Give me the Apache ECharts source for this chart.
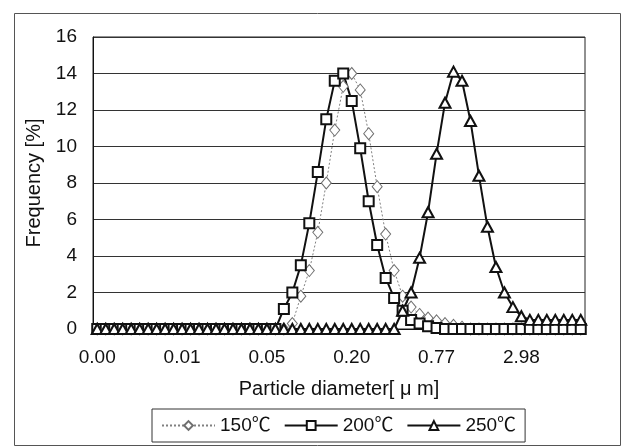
<!DOCTYPE html>
<html>
<head>
<meta charset="utf-8">
<script src="https://cdn.jsdelivr.net/npm/echarts@6/dist/echarts.min.js"></script>
<style>html,body{margin:0;padding:0;background:#fff;}#c{width:629px;height:446px;}</style>
</head>
<body>
<div id="c"></div>
<script>
// Particle diameters [um] (category axis, log-spaced channels)
const diameters = [
  0.00343, 0.00393, 0.00450, 0.00515, 0.00589, 0.00674, 0.00772, 0.00884, 0.01012, 0.01159,
  0.01327, 0.01519, 0.01739, 0.01991, 0.02280, 0.02610, 0.02988, 0.03421, 0.03917, 0.04485,
  0.05134, 0.05878, 0.06730, 0.07705, 0.08822, 0.1010, 0.1156, 0.1324, 0.1516, 0.1735,
  0.1987, 0.2275, 0.2604, 0.2982, 0.3414, 0.3908, 0.4475, 0.5123, 0.5866, 0.6716,
  0.7689, 0.8803, 1.008, 1.154, 1.321, 1.513, 1.732, 1.983, 2.270, 2.599,
  2.976, 3.407, 3.901, 4.466, 5.113, 5.854, 6.702, 7.673
];
const seriesNames = ['150℃', '200℃', '250℃'];
const s150 = [
  0, 0, 0, 0, 0, 0, 0, 0, 0, 0,
  0, 0, 0, 0, 0, 0, 0, 0, 0, 0,
  0, 0, 0, 0.3, 1.8, 3.2, 5.3, 8.0, 10.9, 13.3,
  14.0, 13.1, 10.7, 7.8, 5.2, 3.2, 1.8, 1.2, 0.8, 0.6,
  0.45, 0.3, 0.2, 0.1, 0, 0, 0, 0, 0, 0,
  0, 0, 0, 0, 0, 0, 0, 0
];
const s200 = [
  0, 0, 0, 0, 0, 0, 0, 0, 0, 0,
  0, 0, 0, 0, 0, 0, 0, 0, 0, 0,
  0, 0, 1.1, 2.0, 3.5, 5.8, 8.6, 11.5, 13.6, 14.0,
  12.5, 9.9, 7.0, 4.6, 2.8, 1.7, 1.0, 0.5, 0.3, 0.15,
  0.05, 0, 0, 0, 0, 0, 0, 0, 0, 0,
  0, 0, 0, 0, 0, 0, 0, 0
];
const s250 = [
  0, 0, 0, 0, 0, 0, 0, 0, 0, 0,
  0, 0, 0, 0, 0, 0, 0, 0, 0, 0,
  0, 0, 0, 0, 0, 0, 0, 0, 0, 0,
  0, 0, 0, 0, 0, 0, 1.0, 2.0, 3.9, 6.4,
  9.6, 12.4, 14.1, 13.6, 11.4, 8.4, 5.6, 3.4, 2.0, 1.2,
  0.7, 0.5, 0.5, 0.5, 0.5, 0.5, 0.5, 0.5
];
const yMin = 0, yMax = 16, yStep = 2;
const xTitle = 'Particle diameter[ μ m]';
const yTitle = 'Frequency [%]';

const FONT = '"Liberation Sans", Arial, "Noto Sans CJK JP", sans-serif';
const chart = echarts.init(document.getElementById('c'), null, {renderer: 'canvas'});
chart.setOption({
  backgroundColor: '#fff',
  animation: false,
  textStyle: {fontFamily: FONT, color: '#111'},
  graphic: [{
    type: 'rect', left: 12, top: 11, silent: true,
    shape: {width: 606, height: 432},
    style: {fill: 'none', stroke: '#555', lineWidth: 1}
  }],
  grid: {left: 93, right: 44, top: 37, bottom: 117, show: true, borderColor: '#222', borderWidth: 1, containLabel: false},
  legend: {
    data: seriesNames,
    left: 152, top: 409,
    padding: [7, 9],
    borderColor: '#333', borderWidth: 1,
    itemWidth: 53, itemHeight: 11, itemGap: 13,
    textStyle: {fontFamily: FONT, fontSize: 19, color: '#111'}
  },
  xAxis: {
    type: 'category',
    data: diameters.map(d => d.toFixed(2)),
    boundaryGap: true,
    name: xTitle, nameLocation: 'middle', nameGap: 50,
    nameTextStyle: {fontFamily: FONT, fontSize: 20, color: '#111'},
    axisLine: {lineStyle: {color: '#111', width: 1}},
    axisTick: {show: false},
    axisLabel: {interval: 9, margin: 19, fontFamily: FONT, fontSize: 19, color: '#111'},
    splitLine: {show: false}
  },
  yAxis: {
    type: 'value', min: yMin, max: yMax, interval: yStep,
    name: yTitle, nameLocation: 'middle', nameGap: 42,
    nameTextStyle: {fontFamily: FONT, fontSize: 20, color: '#111'},
    axisLine: {show: true, lineStyle: {color: '#111', width: 1}},
    axisTick: {show: false},
    axisLabel: {margin: 16, fontFamily: FONT, fontSize: 19, color: '#111'},
    splitLine: {show: true, lineStyle: {color: '#333', width: 1}}
  },
  series: [
    {
      name: seriesNames[0], type: 'line', data: s150,
      symbol: 'diamond', symbolSize: [10, 12], showAllSymbol: true,
      lineStyle: {color: '#808080', width: 1, type: [2, 2]},
      itemStyle: {color: '#fff', borderColor: '#707070', borderWidth: 1}
    },
    {
      name: seriesNames[1], type: 'line', data: s200,
      symbol: 'rect', symbolSize: 10, showAllSymbol: true,
      lineStyle: {color: '#111', width: 2},
      itemStyle: {color: '#fff', borderColor: '#111', borderWidth: 2}
    },
    {
      name: seriesNames[2], type: 'line', data: s250,
      symbol: 'triangle', symbolSize: [11, 10], showAllSymbol: true,
      lineStyle: {color: '#111', width: 2},
      itemStyle: {color: '#fff', borderColor: '#111', borderWidth: 2}
    }
  ]
});
</script>
</body>
</html>
